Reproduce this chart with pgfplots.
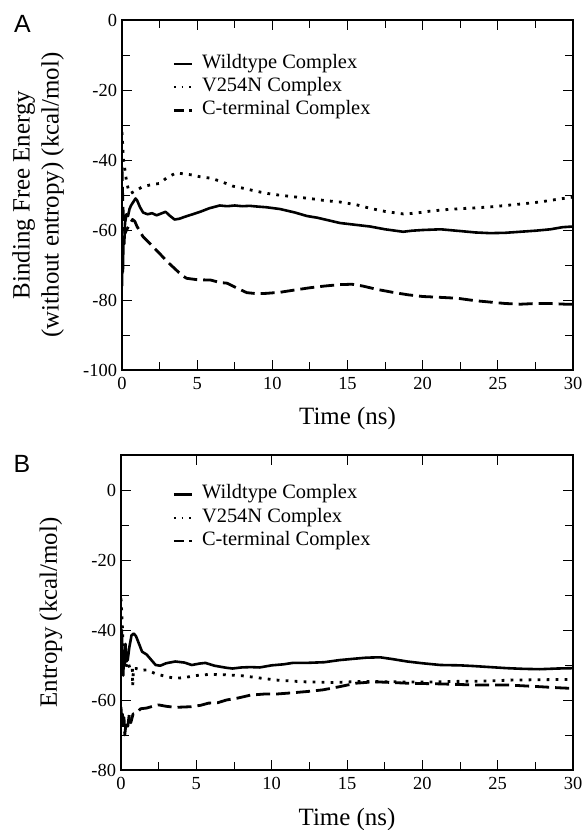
\documentclass[border=0pt]{standalone}
\usepackage{fontspec}
\setmainfont{Liberation Serif}
\newfontfamily\panelfont{Liberation Sans}
\usepackage{pgfplots}
\pgfplotsset{compat=1.18}

\pgfplotsset{
  panel/.style={
    scale only axis,
    xmin=0, xmax=30,
    xtick={0,5,...,30},
    minor x tick num=1, minor y tick num=1,
    tick align=inside,
    major tick length=10bp, minor tick length=8bp,
    every tick/.style={black, line width=0.9bp},
    axis line style={line width=1.2bp},
    tick label style={font=\fontsize{18.5}{18.5}\selectfont},
    yticklabel style={xshift=-1.5bp},
    xticklabel style={yshift=-4bp},
    label style={font=\fontsize{25}{29}\selectfont},
    /pgf/number format/assume math mode=true,
    xlabel={Time (ns)},
    legend cell align=left,
    legend style={draw=none, fill=none, anchor=north west,
      font=\fontsize{20.5}{23}\selectfont,
      nodes={inner ysep=0bp, inner xsep=9bp, text height=16bp, text depth=7.3bp}},
  },
  wt/.style={black, line width=2.6bp, line join=round},
  vn/.style={black, line width=2.8bp, dash pattern=on 2.8bp off 6.2bp},
  ct/.style={black, line width=2.8bp, line join=round, dash pattern=on 14bp off 6bp},
  legwt/.style={legend image code/.code={\draw[black, line width=2.5bp] (0bp,0bp) -- (18bp,0bp);}},
  legvn/.style={legend image code/.code={\draw[black, line width=1.8bp, dash pattern=on 1.8bp off 6bp] (0bp,0bp) -- (18bp,0bp);}},
  legct/.style={legend image code/.code={\draw[black, line width=2.5bp, dash pattern=on 10bp off 5.5bp on 2.5bp off 10bp] (0bp,0bp) -- (18bp,0bp);}},
}

\begin{document}
\begin{tikzpicture}
\path[use as bounding box] (-122bp,20bp) rectangle (461bp,-810bp);

% ---------- panel A ----------
\begin{axis}[panel,
  at={(0bp,0bp)}, anchor=north west,
  width=451bp, height=350bp,
  ymin=-100, ymax=0,
  ytick={-100,-80,...,0},
  ylabel={Binding Free Energy\\(without entropy) (kcal/mol)},
  ylabel style={align=center, at={(axis description cs:-0.186,0.5)}, anchor=center},
  xlabel style={at={(axis description cs:0.5,-0.14)}, anchor=center},
  legend style={at={(axis description cs:0.105,0.914)}},
]
\addplot[wt, forget plot] coordinates {
 (0,-76) (0.03,-68) (0.06,-72) (0.1,-62) (0.15,-64) (0.2,-58) (0.3,-55.5) (0.4,-56)
 (0.5,-54) (0.6,-53) (0.75,-52) (0.9,-51) (1.0,-51.5) (1.2,-53.5) (1.4,-55) (1.7,-55.5)
 (2.0,-55.2) (2.3,-55.8) (2.6,-55.3) (2.9,-54.8) (3.2,-56) (3.5,-57) (3.8,-56.8) (4.2,-56.2)
 (4.7,-55.5) (5.2,-54.8) (5.8,-53.8) (6.5,-53) (7,-53.2) (7.5,-53) (8,-53.2) (8.5,-53.1)
 (9,-53.3) (9.6,-53.5) (10.5,-54) (11.5,-55) (12.3,-56) (13,-56.5) (13.8,-57.3) (14.5,-58)
 (15.5,-58.5) (16.5,-59) (17.5,-59.8) (18.7,-60.5) (19.3,-60.2) (20,-60) (21.2,-59.8)
 (22.5,-60.3) (23.5,-60.7) (24.5,-60.9) (25.5,-60.8) (26.5,-60.5) (27.5,-60.2) (28.5,-59.8)
 (29.3,-59.2) (30,-59)
};
\addplot[vn, forget plot] coordinates {
 (0,-32) (0.05,-36) (0.1,-40) (0.2,-43) (0.3,-46) (0.45,-49) (0.6,-49.5) (0.8,-49)
 (1.0,-48.5) (1.4,-47.6) (2.0,-47) (2.5,-46.7) (3.0,-45) (3.6,-43.7) (4.2,-44) (4.7,-44.3)
 (5.2,-44.8) (5.9,-45.2) (6.5,-46) (7.4,-47.5) (8.1,-48.1) (9,-49) (10,-49.8) (11.2,-50.4)
 (12.5,-51) (13.5,-51.6) (14.5,-52) (15.6,-52.8) (16.5,-53.8) (17.5,-54.7) (18.7,-55.4)
 (19.5,-55.2) (20.5,-54.6) (21.5,-54.2) (22.5,-53.9) (23.4,-53.7) (24.5,-53.4) (25.5,-53)
 (26.7,-52.5) (27.8,-52) (29,-51.2) (30,-50.6)
};
\addplot[ct, forget plot] coordinates {
 (0,-42) (0.03,-48) (0.07,-54) (0.12,-58) (0.2,-61) (0.3,-60) (0.5,-58.5) (0.7,-57)
 (0.85,-57.5) (1.0,-59) (1.4,-61.9) (2.0,-64.5) (2.5,-66.7) (3.0,-69) (3.6,-71.4) (4.0,-73)
 (4.3,-73.8) (5.0,-74.2) (5.9,-74.3) (6.5,-75) (7.0,-75.2) (7.6,-76.5) (8.3,-77.9) (9.0,-78.2)
 (9.6,-78.1) (10.5,-77.8) (11.4,-77.2) (12.5,-76.5) (13.5,-76) (14.5,-75.6) (15.3,-75.5)
 (16,-76) (17,-77) (18,-77.8) (19,-78.5) (20,-79) (21,-79.2) (22.3,-79.5) (23.5,-80.2)
 (24.5,-80.6) (25.5,-81) (26.5,-81.2) (27.5,-81) (28.5,-81) (29.5,-81.2) (30,-81.2)
};
\addlegendimage{legwt}\addlegendentry{Wildtype Complex}
\addlegendimage{legvn}\addlegendentry{V254N Complex}
\addlegendimage{legct}\addlegendentry{C-terminal Complex}
\end{axis}

% ---------- panel B ----------
\begin{axis}[panel,
  at={(-1bp,-435bp)}, anchor=north west,
  width=452bp, height=315bp,
  ymin=-80, ymax=10,
  ytick={-80,-60,...,0},
  xtick pos=lower,
  ylabel={Entropy (kcal/mol)},
  ylabel style={at={(axis description cs:-0.155,0.5)}, anchor=center},
  xlabel style={at={(axis description cs:0.5,-0.156)}, anchor=center},
  legend style={at={(axis description cs:0.107,0.919)}},
]
\addplot[wt, forget plot] coordinates {
 (0,-45) (0.05,-40) (0.1,-48) (0.15,-53) (0.2,-46) (0.25,-50) (0.3,-44) (0.35,-49)
 (0.45,-48.5) (0.55,-45) (0.7,-41.5) (0.85,-41) (1.0,-41.8) (1.2,-44) (1.4,-46.2) (1.7,-47)
 (2.0,-48.5) (2.3,-50) (2.6,-50.2) (3.0,-49.5) (3.6,-49) (4.2,-49.3) (4.7,-50) (5.2,-49.6)
 (5.6,-49.4) (6.2,-50.2) (7.0,-50.8) (7.4,-51) (8,-50.7) (8.6,-50.6) (9.2,-50.7) (10,-50.1)
 (10.8,-49.8) (11.4,-49.4) (12.3,-49.4) (13.5,-49.2) (14.5,-48.6) (15.5,-48.2) (16.3,-47.9)
 (17.2,-47.8) (18,-48.3) (19,-49) (20,-49.5) (21.2,-50) (22.5,-50.1) (23.4,-50.3)
 (24.5,-50.6) (25.6,-50.9) (26.7,-51.1) (27.8,-51.2) (29,-51) (30,-50.9)
};
\addplot[vn, forget plot] coordinates {
 (0,-31) (0.05,-35) (0.1,-40) (0.15,-45) (0.2,-49) (0.3,-51) (0.45,-49) (0.6,-51)
 (0.75,-50.5) (0.78,-56) (0.82,-51) (1.0,-51) (1.4,-51.5) (1.7,-51.4) (2.3,-52.5) (3.0,-53.3)
 (3.6,-53.8) (4.2,-53.6) (5.0,-53) (5.8,-52.7) (7,-52.8) (8.1,-53.1) (9,-53.6) (10.3,-54.3)
 (12.1,-54.8) (14,-55) (16,-54.7) (18,-54.8) (20,-54.9) (22,-54.7) (24,-54.6) (26,-54.3)
 (28,-54.2) (30,-54.1)
};
\addplot[ct, forget plot] coordinates {
 (0,-62) (0.05,-66) (0.1,-64) (0.15,-68) (0.2,-65) (0.25,-70) (0.35,-66) (0.45,-67.5)
 (0.55,-64) (0.65,-66.5) (0.8,-64) (1.0,-63.8) (1.3,-62.5) (1.7,-62.3) (2.1,-61.8)
 (2.5,-61.4) (3.0,-61.8) (3.6,-62.1) (4.2,-62) (4.7,-61.9) (5.3,-61.5) (5.8,-60.9)
 (6.4,-60.8) (7.0,-60) (7.8,-59.4) (8.6,-58.6) (9.5,-58.3) (10.3,-58.3) (11.2,-58)
 (12.3,-57.6) (13.4,-57.1) (14.5,-56.2) (15.6,-55.2) (16.8,-54.8) (18,-55) (19,-55.2)
 (21.2,-55.4) (23.4,-55.7) (25.6,-55.7) (27.8,-56.2) (29,-56.5) (30,-56.7)
};
\addlegendimage{legwt}\addlegendentry{Wildtype Complex}
\addlegendimage{legvn}\addlegendentry{V254N Complex}
\addlegendimage{legct}\addlegendentry{C-terminal Complex}
\end{axis}

% top edge of panel B: major ticks only
\begin{axis}[
  scale only axis,
  at={(-1bp,-435bp)}, anchor=north west,
  width=452bp, height=315bp,
  xmin=0, xmax=30, ymin=-80, ymax=10,
  axis x line*=top, axis y line=none,
  xtick={5,10,...,25}, xticklabels={},
  tick align=inside, major tick length=10bp,
  every tick/.style={black, line width=0.9bp},
  axis line style={line width=1.2bp, -},
]
\end{axis}

\node[font=\panelfont\fontsize{25}{25}\selectfont] at (-99.5bp,-4bp) {A};
\node[font=\panelfont\fontsize{25}{25}\selectfont] at (-100bp,-444bp) {B};
\end{tikzpicture}
\end{document}
